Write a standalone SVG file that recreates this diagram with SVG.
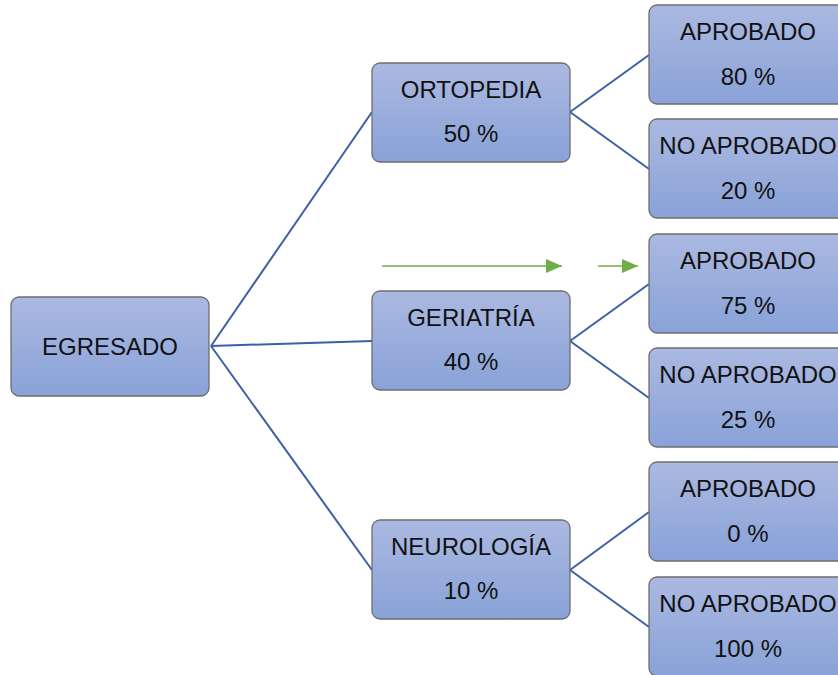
<svg xmlns="http://www.w3.org/2000/svg" width="838" height="675" viewBox="0 0 838 675">
<style>
.box{fill:url(#g);stroke:#6e6e6e;stroke-width:1.3}
text{font-family:"Liberation Sans",Arial,sans-serif;font-size:24px;fill:#111;text-anchor:middle}
.conn{stroke:#3c5fa6;stroke-width:2;fill:none}
.green{stroke:#70ad47;stroke-width:1.6;fill:none}
</style>
<defs>
<linearGradient id="g" x1="0" y1="0" x2="0" y2="1">
<stop offset="0" stop-color="#abb9e1"/>
<stop offset="1" stop-color="#89a2d8"/>
</linearGradient>
<marker id="ga" markerWidth="16" markerHeight="14" refX="16" refY="7" orient="auto" markerUnits="userSpaceOnUse">
<path d="M0,0 L16,7 L0,14 Z" fill="#70ad47"/>
</marker>
</defs>
<g id="connectors">
<line class="conn" x1="211" y1="346" x2="372" y2="112"/>
<line class="conn" x1="211" y1="346" x2="372" y2="341"/>
<line class="conn" x1="211" y1="346" x2="372" y2="570"/>
<line class="conn" x1="570" y1="112" x2="649" y2="55"/>
<line class="conn" x1="570" y1="112" x2="649" y2="169"/>
<line class="conn" x1="570" y1="341" x2="649" y2="284"/>
<line class="conn" x1="570" y1="341" x2="649" y2="398"/>
<line class="conn" x1="570" y1="570" x2="649" y2="512"/>
<line class="conn" x1="570" y1="570" x2="649" y2="627"/>
<line class="green" x1="382" y1="266" x2="562" y2="266" marker-end="url(#ga)"/>
<line class="green" x1="598" y1="266" x2="638" y2="266" marker-end="url(#ga)"/>
</g>
<g id="egresado">
<rect class="box" x="11" y="297" width="198" height="99" rx="8"/>
<text x="110" y="355">EGRESADO</text>
</g>
<g id="ortopedia">
<rect class="box" x="372" y="63" width="198" height="99" rx="8"/>
<text x="471" y="98">ORTOPEDIA</text>
<text x="471" y="142">50 %</text>
</g>
<g id="geriatria">
<rect class="box" x="372" y="291" width="198" height="99" rx="8"/>
<text x="471" y="326">GERIATRÍA</text>
<text x="471" y="370">40 %</text>
</g>
<g id="neurologia">
<rect class="box" x="372" y="520" width="198" height="99" rx="8"/>
<text x="471" y="555">NEUROLOGÍA</text>
<text x="471" y="599">10 %</text>
</g>
<g id="orto-aprobado">
<rect class="box" x="649" y="5" width="198" height="99" rx="8"/>
<text x="748" y="40">APROBADO</text>
<text x="748" y="85">80 %</text>
</g>
<g id="orto-no-aprobado">
<rect class="box" x="649" y="119" width="198" height="99" rx="8"/>
<text x="748" y="154">NO APROBADO</text>
<text x="748" y="199">20 %</text>
</g>
<g id="geri-aprobado">
<rect class="box" x="649" y="234" width="198" height="99" rx="8"/>
<text x="748" y="269">APROBADO</text>
<text x="748" y="314">75 %</text>
</g>
<g id="geri-no-aprobado">
<rect class="box" x="649" y="348" width="198" height="99" rx="8"/>
<text x="748" y="383">NO APROBADO</text>
<text x="748" y="428">25 %</text>
</g>
<g id="neuro-aprobado">
<rect class="box" x="649" y="462" width="198" height="99" rx="8"/>
<text x="748" y="497">APROBADO</text>
<text x="748" y="542">0 %</text>
</g>
<g id="neuro-no-aprobado">
<rect class="box" x="649" y="577" width="198" height="99" rx="8"/>
<text x="748" y="612">NO APROBADO</text>
<text x="748" y="657">100 %</text>
</g>
</svg>
